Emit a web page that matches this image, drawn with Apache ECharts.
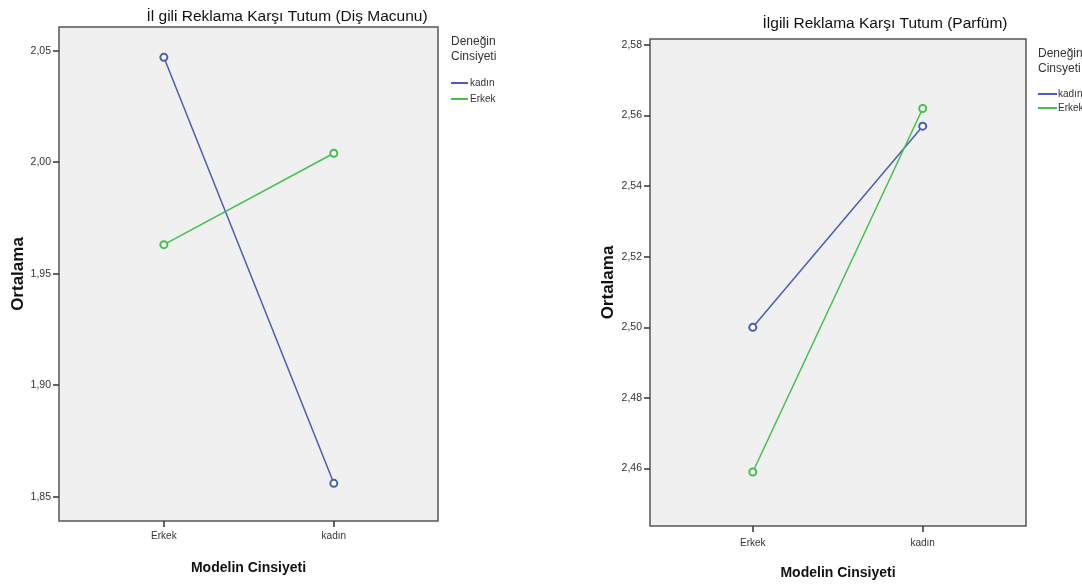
<!DOCTYPE html>
<html>
<head>
<meta charset="utf-8">
<script src="https://cdn.jsdelivr.net/npm/echarts@6/dist/echarts.min.js"></script>
<style>
  html, body { margin: 0; padding: 0; background: #fff; }
  #chart { width: 1082px; height: 586px; }
</style>
</head>
<body>
<div id="chart"></div>
<script>
// Category labels on the x axis (Modelin Cinsiyeti) and the legend groups (Deneğin Cinsiyeti)
const categories = ['Erkek', 'kadın'];
const groups = ['kadın', 'Erkek'];

// Mean attitude scores, Diş Macunu (toothpaste ad)
const disMacunuKadin = [2.047, 1.856];
const disMacunuErkek = [1.963, 2.004];

// Mean attitude scores, Parfüm (perfume ad)
const parfumKadin = [2.500, 2.557];
const parfumErkek = [2.459, 2.562];

// Y tick values
const disMacunuTicks = [1.85, 1.90, 1.95, 2.00, 2.05];
const parfumTicks = [2.46, 2.48, 2.50, 2.52, 2.54, 2.56, 2.58];

const FONT = "'Liberation Sans', Arial, sans-serif";
const BLUE = '#4a5db5';
const GREEN = '#45bf4d';

const pairs = vals => vals.map((v, i) => [i, v]);
const comma = v => v.toFixed(2).replace('.', ',');

function xAxis(gridIndex, min, max, labelMargin) {
  return {
    type: 'value', gridIndex, min, max,
    name: 'Modelin Cinsiyeti', nameLocation: 'middle', nameGap: 40,
    nameTextStyle: { fontFamily: FONT, fontWeight: 'bold', fontSize: 14, color: '#111' },
    axisLine: { show: false, onZero: false },
    splitLine: { show: false },
    axisTick: { show: true, customValues: [0, 1], length: 6, lineStyle: { color: '#333', width: 1.5 } },
    axisLabel: {
      customValues: [0, 1], formatter: v => categories[Math.round(v)],
      fontFamily: FONT, fontSize: 10, color: '#333', margin: labelMargin
    }
  };
}

function yAxis(gridIndex, min, max, ticks, nameGap) {
  return {
    type: 'value', gridIndex, min, max,
    name: 'Ortalama', nameLocation: 'middle', nameGap,
    nameTextStyle: { fontFamily: FONT, fontWeight: 'bold', fontSize: 17, color: '#111' },
    axisLine: { show: false, onZero: false },
    splitLine: { show: false },
    axisTick: { show: true, customValues: ticks, length: 6, lineStyle: { color: '#333', width: 1.5 } },
    axisLabel: {
      customValues: ticks, formatter: comma,
      fontFamily: FONT, fontSize: 10.5, color: '#333', margin: 8
    }
  };
}

function line(name, data, color, idx) {
  return {
    type: 'line', name, data: pairs(data),
    xAxisIndex: idx, yAxisIndex: idx,
    symbol: 'emptyCircle', symbolSize: 7,
    lineStyle: { color, width: 1.5 },
    itemStyle: { color, borderWidth: 1.1 },
    silent: true, animation: false
  };
}

const gridStyle = { show: true, backgroundColor: '#f0f0f0', borderColor: '#555', borderWidth: 1.5 };

const option = {
  backgroundColor: '#ffffff',
  animation: false,
  title: [
    { text: 'İl gili Reklama Karşı Tutum (Diş Macunu)', left: 282, top: 4, textAlign: 'center',
      textStyle: { fontFamily: FONT, fontSize: 15.5, fontWeight: 'normal', color: '#111' } },
    { text: 'İlgili Reklama Karşı Tutum (Parfüm)', left: 880, top: 11, textAlign: 'center',
      textStyle: { fontFamily: FONT, fontSize: 15.5, fontWeight: 'normal', color: '#111' } },
    { text: 'Deneğin\nCinsiyeti', left: 446, top: 29,
      textStyle: { fontFamily: FONT, fontSize: 12, fontWeight: 'normal', color: '#333', lineHeight: 15 } },
    { text: 'Deneğin\nCinsyeti', left: 1033, top: 41,
      textStyle: { fontFamily: FONT, fontSize: 12, fontWeight: 'normal', color: '#333', lineHeight: 15 } }
  ],
  legend: [
    { data: groups, orient: 'vertical', left: 446, top: 73, icon: 'rect', itemWidth: 17, itemHeight: 2,
      itemGap: 6, selectedMode: false,
      textStyle: { fontFamily: FONT, fontSize: 10, color: '#333', padding: [0, 0, 0, -3] } },
    { data: groups, orient: 'vertical', left: 1033, top: 84, icon: 'rect', itemWidth: 19, itemHeight: 2,
      itemGap: 4, selectedMode: false,
      textStyle: { fontFamily: FONT, fontSize: 10, color: '#333', padding: [0, 0, 0, -4] } }
  ],
  grid: [
    Object.assign({ left: 59, top: 27, width: 379, height: 494 }, gridStyle),
    Object.assign({ left: 650, top: 39, width: 376, height: 487 }, gridStyle)
  ],
  xAxis: [xAxis(0, -0.617, 1.613, 10), xAxis(1, -0.605, 1.608, 12)],
  yAxis: [yAxis(0, 1.8391, 2.0606, disMacunuTicks, 31), yAxis(1, 2.4437, 2.5817, parfumTicks, 33)],
  series: [
    line(groups[0], disMacunuKadin, BLUE, 0),
    line(groups[1], disMacunuErkek, GREEN, 0),
    line(groups[0], parfumKadin, BLUE, 1),
    line(groups[1], parfumErkek, GREEN, 1)
  ]
};

const chart = echarts.init(document.getElementById('chart'), null, { renderer: 'canvas' });
chart.setOption(option);
</script>
</body>
</html>
